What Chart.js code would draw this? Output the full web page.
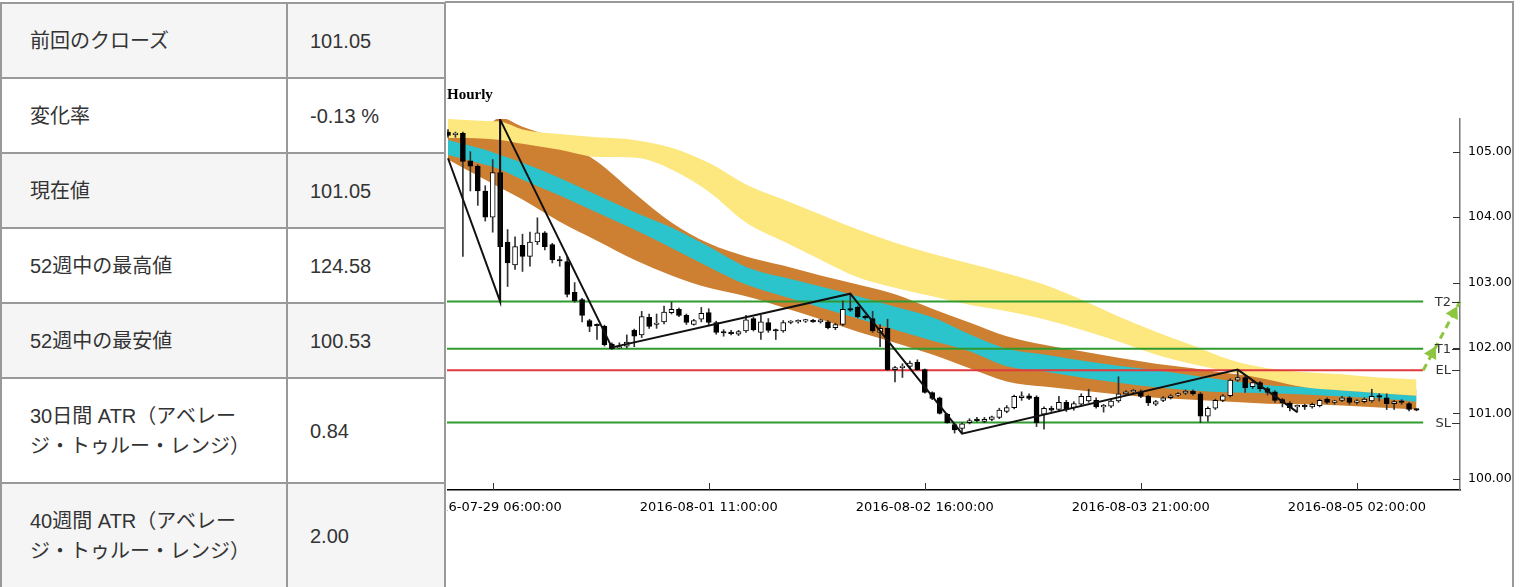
<!DOCTYPE html>
<html>
<head>
<meta charset="utf-8">
<script src="https://cdn.jsdelivr.net/npm/chart.js@4.4.1/dist/chart.umd.min.js"></script>
<style>
  body { margin: 0; background: #fff; width: 1522px; height: 587px; overflow: hidden; position: relative; }
  #info { position: absolute; left: 0; top: 2px; border-collapse: collapse;
          font-family: "Liberation Sans", "Noto Sans CJK JP", sans-serif; font-size: 20px; color: #333; }
  #info td { border: 2px solid #999; padding: 0; vertical-align: middle; line-height: 30px; height: 73px; }
  #info td.k { width: 256px; padding-left: 28px; }
  #info td.v { width: 134px; padding-left: 22px; }
  #info tr.g td { background: #f5f5f5; }
  #info tr.tall td { height: 103px; }
  #panel { position: absolute; left: 445px; top: 1px; width: 1069px; height: 600px; box-sizing: border-box;
           border: 2px solid #999; border-left: none; }
  #wrap { position: absolute; left: 447px; top: 80px; width: 1064px; height: 440px; }
</style>
</head>
<body>
<table id="info">
  <tr class="g"><td class="k">前回のクローズ</td><td class="v">101.05</td></tr>
  <tr><td class="k">変化率</td><td class="v">-0.13 %</td></tr>
  <tr class="g"><td class="k">現在値</td><td class="v">101.05</td></tr>
  <tr><td class="k">52週中の最高値</td><td class="v">124.58</td></tr>
  <tr class="g"><td class="k">52週中の最安値</td><td class="v">100.53</td></tr>
  <tr class="tall"><td class="k">30日間 ATR（アベレー<br>ジ・トゥルー・レンジ）</td><td class="v">0.84</td></tr>
  <tr class="g tall"><td class="k">40週間 ATR（アベレー<br>ジ・トゥルー・レンジ）</td><td class="v">2.00</td></tr>
</table>
<div id="panel"></div>
<div id="wrap"><canvas id="chart" width="1064" height="440"></canvas></div>
<script>
// hourly candles, one per bar (index = bar number)
const opens = [
  105.30, 105.26, 105.28, 104.86, 104.78, 104.40, 104.00, 104.68, 103.62, 103.27,
  103.57, 103.40, 103.62, 103.76, 103.58, 103.35, 103.32, 102.85, 102.74, 102.42,
  102.35, 102.33, 102.06, 102.00, 102.03, 102.27, 102.20, 102.47, 102.36, 102.40,
  102.54, 102.59, 102.50, 102.36, 102.44, 102.54, 102.39, 102.24, 102.23, 102.21,
  102.26, 102.45, 102.24, 102.39, 102.27, 102.26, 102.39, 102.40, 102.41, 102.42,
  102.40, 102.40, 102.31, 102.36, 102.59, 102.62, 102.47, 102.45, 102.24, 102.30,
  101.67, 101.70, 101.72, 101.78, 101.67, 101.32, 101.24, 100.99, 100.83, 100.77,
  100.86, 100.91, 100.88, 100.91, 100.94, 101.03, 101.09, 101.24, 101.27, 101.25,
  100.99, 101.08, 101.06, 101.17, 101.09, 101.14, 101.19, 101.20, 101.10, 101.11,
  101.19, 101.30, 101.33, 101.33, 101.26, 101.14, 101.20, 101.24, 101.28, 101.31,
  101.34, 101.30, 100.96, 101.08, 101.20, 101.27, 101.51, 101.55, 101.41, 101.47,
  101.38, 101.33, 101.21, 101.16, 101.10, 101.11, 101.10, 101.12, 101.22, 101.17,
  101.20, 101.24, 101.17, 101.18, 101.19, 101.26, 101.24, 101.15, 101.18, 101.15,
  101.06
];
const highs = [
  105.34, 105.30, 105.30, 105.00, 104.80, 104.48, 104.88, 105.49, 103.81, 103.70,
  103.74, 103.77, 103.99, 103.78, 103.60, 103.40, 103.40, 103.00, 102.76, 102.44,
  102.37, 102.35, 102.08, 102.08, 102.20, 102.29, 102.56, 102.52, 102.52, 102.64,
  102.70, 102.61, 102.52, 102.44, 102.62, 102.60, 102.41, 102.28, 102.27, 102.27,
  102.50, 102.47, 102.50, 102.45, 102.29, 102.42, 102.42, 102.43, 102.44, 102.44,
  102.44, 102.42, 102.38, 102.72, 102.83, 102.64, 102.50, 102.56, 102.36, 102.44,
  101.72, 101.76, 101.80, 101.82, 101.68, 101.33, 101.25, 101.00, 100.85, 100.86,
  100.92, 100.94, 100.94, 100.96, 101.08, 101.12, 101.28, 101.33, 101.30, 101.27,
  101.10, 101.11, 101.26, 101.20, 101.18, 101.30, 101.37, 101.24, 101.14, 101.22,
  101.56, 101.35, 101.37, 101.36, 101.28, 101.20, 101.26, 101.29, 101.32, 101.36,
  101.36, 101.32, 101.10, 101.22, 101.29, 101.53, 101.67, 101.57, 101.49, 101.49,
  101.40, 101.35, 101.23, 101.18, 101.13, 101.14, 101.16, 101.22, 101.24, 101.20,
  101.26, 101.26, 101.21, 101.24, 101.37, 101.30, 101.30, 101.20, 101.21, 101.17,
  101.07
];
const lows = [
  105.22, 105.22, 103.40, 104.40, 104.18, 103.94, 103.77, 102.71, 102.94, 103.20,
  103.17, 103.25, 103.58, 103.50, 103.30, 103.25, 102.78, 102.70, 102.40, 102.25,
  102.13, 102.03, 101.98, 101.99, 102.00, 102.02, 102.16, 102.30, 102.30, 102.37,
  102.52, 102.48, 102.36, 102.35, 102.40, 102.34, 102.21, 102.18, 102.20, 102.19,
  102.24, 102.26, 102.13, 102.24, 102.13, 102.24, 102.37, 102.38, 102.39, 102.39,
  102.38, 102.29, 102.28, 102.34, 102.56, 102.46, 102.44, 102.24, 102.02, 101.66,
  101.48, 101.55, 101.68, 101.66, 101.31, 101.21, 100.99, 100.85, 100.70, 100.69,
  100.84, 100.87, 100.86, 100.89, 100.92, 101.01, 101.07, 101.20, 101.21, 100.80,
  100.76, 101.03, 101.03, 101.03, 101.05, 101.11, 101.17, 101.08, 101.02, 101.09,
  101.17, 101.28, 101.30, 101.24, 101.12, 101.12, 101.18, 101.22, 101.26, 101.29,
  101.28, 100.86, 100.88, 101.06, 101.18, 101.25, 101.49, 101.32, 101.38, 101.34,
  101.28, 101.17, 101.10, 101.04, 101.02, 101.06, 101.08, 101.10, 101.15, 101.14,
  101.18, 101.14, 101.14, 101.16, 101.17, 101.19, 101.06, 101.06, 101.14, 101.04,
  101.04
];
const closes = [
  105.25, 105.28, 104.85, 104.78, 104.40, 104.00, 104.68, 103.55, 103.30, 103.55,
  103.40, 103.62, 103.76, 103.55, 103.35, 103.33, 102.82, 102.72, 102.50, 102.33,
  102.34, 102.05, 101.99, 102.02, 102.09, 102.18, 102.48, 102.33, 102.38, 102.55,
  102.59, 102.50, 102.39, 102.42, 102.53, 102.39, 102.24, 102.23, 102.22, 102.25,
  102.43, 102.28, 102.40, 102.27, 102.26, 102.39, 102.40, 102.40, 102.42, 102.40,
  102.43, 102.31, 102.36, 102.59, 102.58, 102.48, 102.46, 102.26, 102.30, 101.67,
  101.70, 101.70, 101.77, 101.67, 101.32, 101.23, 101.00, 100.86, 100.75, 100.84,
  100.89, 100.89, 100.91, 100.95, 101.05, 101.09, 101.26, 101.27, 101.23, 100.86,
  101.08, 101.05, 101.17, 101.06, 101.15, 101.26, 101.26, 101.10, 101.10, 101.19,
  101.30, 101.33, 101.33, 101.26, 101.16, 101.18, 101.24, 101.27, 101.30, 101.34,
  101.30, 100.96, 101.08, 101.20, 101.27, 101.51, 101.55, 101.39, 101.47, 101.38,
  101.32, 101.20, 101.16, 101.09, 101.11, 101.10, 101.14, 101.20, 101.17, 101.17,
  101.24, 101.17, 101.18, 101.22, 101.26, 101.25, 101.15, 101.18, 101.17, 101.06,
  101.05
];

// x axis labels and where they sit (bar number)
const tickIdx = [6, 35, 64, 93, 122];
const tickLabels = ['2016-07-29 06:00:00', '2016-08-01 11:00:00', '2016-08-02 16:00:00',
                    '2016-08-03 21:00:00', '2016-08-05 02:00:00'];
const yTicks = [100, 101, 102, 103, 104, 105];

// indicator bands, sampled every few bars
const bandIdx = [0, 5, 7, 10, 15, 20, 25, 30, 35, 40, 45, 50, 55, 60, 65, 70, 75, 80, 85, 90, 95, 100, 105, 110, 115, 120, 125, 130];
const yellowTop = [105.50, 105.47, 105.46, 105.34, 105.27, 105.22, 105.18, 105.06, 104.83, 104.50, 104.27, 104.04, 103.81, 103.61,
                   103.44, 103.29, 103.14, 102.97, 102.74, 102.48, 102.25, 102.04, 101.82, 101.69, 101.63, 101.60, 101.55, 101.52];
const yellowBottom = [105.21, 105.20, 105.18, 105.12, 105.03, 104.92, 104.91, 104.73, 104.39, 103.92, 103.63, 103.35, 103.08, 102.92,
                      102.79, 102.66, 102.56, 102.44, 102.28, 102.10, 101.90, 101.75, 101.63, 101.52, 101.40, 101.35, 101.31, 101.27];
const orangeTop = [105.24, 105.37, 105.52, 105.38, 105.18, 104.85, 104.37, 103.92, 103.60, 103.40, 103.26, 103.11, 102.97, 102.82,
                   102.60, 102.39, 102.18, 102.05, 101.95, 101.85, 101.76, 101.69, 101.61, 101.55, 101.49, 101.46, 101.43, 101.37];
const orangeBottom = [104.88, 104.57, 104.45, 104.27, 103.93, 103.64, 103.35, 103.11, 102.92, 102.79, 102.62, 102.44, 102.25, 102.08,
                      101.90, 101.69, 101.49, 101.41, 101.35, 101.29, 101.24, 101.21, 101.18, 101.15, 101.14, 101.12, 101.09, 101.06];
const tealTop = [105.18, 105.03, 104.95, 104.83, 104.60, 104.34, 104.08, 103.84, 103.55, 103.24, 103.08, 102.94, 102.79, 102.63,
                 102.47, 102.21, 101.99, 101.90, 101.81, 101.73, 101.66, 101.58, 101.50, 101.43, 101.40, 101.35, 101.31, 101.27];
const tealBottom = [104.95, 104.80, 104.73, 104.57, 104.33, 104.07, 103.81, 103.53, 103.24, 102.97, 102.79, 102.62, 102.45, 102.28,
                    102.11, 101.95, 101.72, 101.64, 101.55, 101.47, 101.40, 101.35, 101.32, 101.31, 101.29, 101.26, 101.23, 101.18];

// zigzag swing line
const zigIdx = [0, 7, 7, 22, 54, 69, 106, 114];
const zigVal = [104.90, 102.71, 105.49, 102.01, 102.83, 100.69, 101.67, 101.02];

// trade levels
const levelNames = ['T2', 'T1', 'EL', 'SL'];
const levelValues = [102.71, 101.99, 101.66, 100.86];
const levelColors = ['#2f9a2f', '#2f9a2f', '#e0393e', '#2f9a2f'];
const levelStart = -0.14;
const levelEnd = 130.9;

// projection arrow from entry to T2
const projIdx = [130.9, 135.84];
const projVal = [101.66, 102.71];
const arrowIdx = [132.08, 134.98];
const arrowVal = [101.92, 102.53];

const pts = (xs, ys) => xs.map((x, i) => ({ x: x, y: ys[i] }));

function band(top, bottom, color, order) {
  return [
    { type: 'line', data: pts(bandIdx, top), borderWidth: 0, pointRadius: 0, backgroundColor: color,
      fill: '+1', cubicInterpolationMode: 'monotone', order: order },
    { type: 'line', data: pts(bandIdx, bottom), borderWidth: 0, pointRadius: 0, fill: false,
      cubicInterpolationMode: 'monotone', order: order }
  ];
}

const levelSets = levelValues.map((v, i) => ({
  type: 'line', data: [{ x: levelStart, y: v }, { x: levelEnd, y: v }],
  borderColor: levelColors[i], borderWidth: 2, pointRadius: 0, fill: false, order: 5
}));

// small tick marks drawn inward + level names next to the price axis
const marks = {
  id: 'marks',
  afterDraw(chart) {
    const { ctx, chartArea: a, scales: { x, y } } = chart;
    ctx.save();
    ctx.strokeStyle = '#333';
    ctx.lineWidth = 1;
    const line = (x1, y1, x2, y2) => { ctx.beginPath(); ctx.moveTo(x1, y1); ctx.lineTo(x2, y2); ctx.stroke(); };
    yTicks.forEach(v => {
      const py = Math.round(y.getPixelForValue(v)) + 0.5;
      line(a.right - 7, py, a.right, py);
    });
    tickIdx.forEach(v => {
      const px = Math.round(x.getPixelForValue(v)) + 0.5;
      line(px, a.bottom - 7, px, a.bottom);
    });
    ctx.font = '13px "DejaVu Sans"';
    ctx.fillStyle = '#333';
    ctx.textAlign = 'right';
    ctx.textBaseline = 'middle';
    levelValues.forEach((v, i) => {
      const py = Math.round(y.getPixelForValue(v)) + 0.5;
      line(a.right - 8, py, a.right, py);
      ctx.fillText(levelNames[i], a.right - 9, py);
    });
    ctx.restore();
  }
};

new Chart(document.getElementById('chart'), {
  type: 'bar',
  data: {
    datasets: [
      { type: 'line', data: pts(projIdx, projVal), borderColor: '#8cc63f', borderWidth: 3, borderDash: [7, 5],
        pointRadius: 0, fill: false, clip: false, order: 1 },
      { type: 'line', data: pts(arrowIdx, arrowVal), showLine: false, pointStyle: 'triangle', pointRadius: 8,
        rotation: 28, backgroundColor: '#8cc63f', borderColor: '#8cc63f', borderWidth: 0, clip: false, order: 1 },
      { type: 'line', data: pts(zigIdx, zigVal), borderColor: '#111', borderWidth: 2, pointRadius: 0,
        fill: false, tension: 0, order: 2 },
      { type: 'bar', data: opens.map((o, i) => ({ x: i, y: [o, closes[i]] })),
        backgroundColor: opens.map((o, i) => closes[i] >= o ? '#fff' : '#000'),
        borderColor: '#000', borderWidth: 1, borderSkipped: false, barThickness: 5, minBarLength: 1.5,
        grouped: false, order: 3 },
      { type: 'bar', data: lows.map((l, i) => ({ x: i, y: [l, highs[i]] })),
        backgroundColor: '#333', barThickness: 1, grouped: false, order: 4 },
      ...levelSets,
      ...band(yellowTop, yellowBottom, '#fde77f', 6),
      ...band(tealTop, tealBottom, '#2bc3cc', 7),
      ...band(orangeTop, orangeBottom, '#cd7f32', 8)
    ]
  },
  options: {
    responsive: false,
    animation: false,
    layout: { padding: 0, autoPadding: false },
    plugins: {
      legend: { display: false },
      tooltip: { enabled: false },
      title: { display: true, text: 'Hourly', align: 'start', color: '#000',
               font: { family: 'Liberation Serif', size: 15, weight: 'bold' },
               padding: { top: 6, bottom: 15 } }
    },
    scales: {
      x: {
        type: 'linear', min: -0.134, max: 135.84, offset: false,
        grid: { display: false, drawTicks: false },
        border: { display: true, color: '#000', width: 1.5 },
        afterBuildTicks: s => { s.ticks = tickIdx.map(v => ({ value: v })); },
        afterFit: s => { s.height = 30; s.paddingLeft = 0; s.paddingRight = 0; },
        ticks: { autoSkip: false, maxRotation: 0, padding: 10, color: '#000',
                 font: { family: 'DejaVu Sans', size: 13 },
                 callback: (v, i) => tickLabels[i] }
      },
      y: {
        position: 'right', min: 99.83, max: 105.5,
        grid: { display: false, drawTicks: false },
        border: { display: true, color: '#777', width: 1.5 },
        afterBuildTicks: s => { s.ticks = yTicks.map(v => ({ value: v })); },
        afterFit: s => { s.width = 51; s.paddingTop = 0; s.paddingBottom = 0; },
        ticks: { padding: 8, color: '#000', font: { family: 'DejaVu Sans', size: 12.5 },
                 callback: v => v.toFixed(2) }
      }
    }
  },
  plugins: [marks]
});
</script>
</body>
</html>
